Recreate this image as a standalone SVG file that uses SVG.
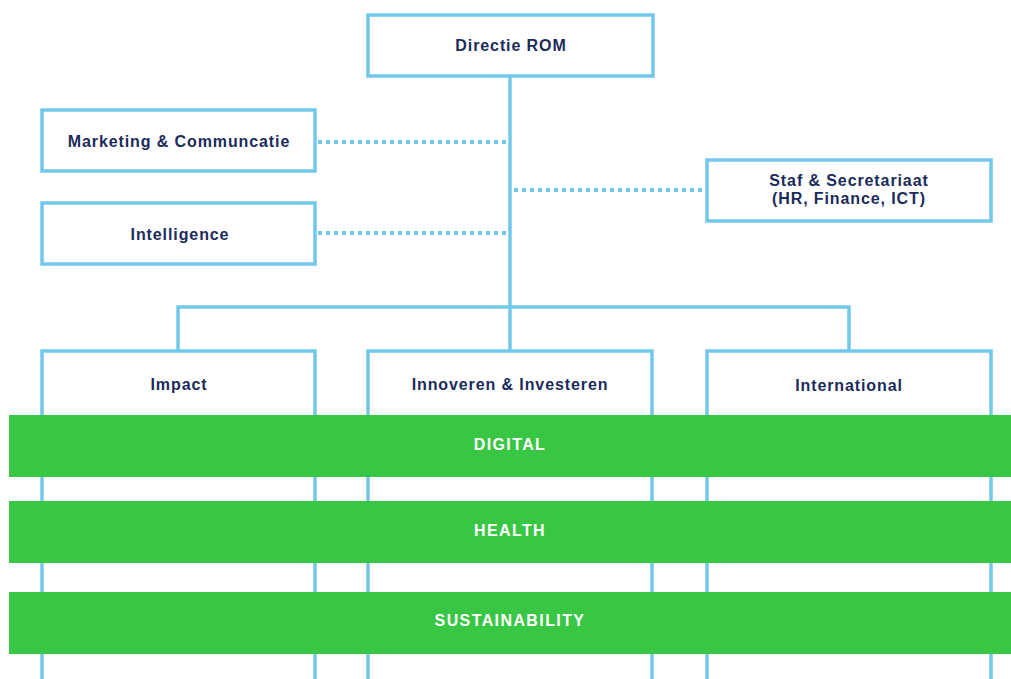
<svg xmlns="http://www.w3.org/2000/svg" width="1011" height="679" viewBox="0 0 1011 679">
<style>
.box{fill:#fff;stroke:#72C7EC;stroke-width:3.5}
.ln{fill:none;stroke:#72C7EC;stroke-width:3.5}
.dot{fill:none;stroke:#72C7EC;stroke-width:4;stroke-dasharray:4 4}
.t{font-family:"Liberation Sans",Arial,sans-serif;font-weight:bold;font-size:16px;fill:#1B2B5B;text-anchor:middle;letter-spacing:0.9px}
.band{fill:#3AC645}
.bt{font-family:"Liberation Sans",Arial,sans-serif;font-weight:bold;font-size:16px;fill:#fff;text-anchor:middle;letter-spacing:1.4px}
</style>
<rect width="1011" height="679" fill="#fff"/>
<g id="connectors">
<line class="ln" x1="510" y1="76" x2="510" y2="350"/>
<polyline class="ln" points="178,350 178,307 849,307 849,350"/>
<line class="dot" x1="318" y1="142" x2="506" y2="142"/>
<line class="dot" x1="318" y1="233" x2="506" y2="233"/>
<line class="dot" x1="514" y1="190" x2="705" y2="190"/>
</g>
<g id="directie"><rect class="box" x="368" y="15" width="285" height="61"/><text class="t" x="511" y="51">Directie ROM</text></g>
<g id="marketing"><rect class="box" x="42" y="110" width="273" height="61"/><text class="t" x="179" y="147">Marketing &amp; Communcatie</text></g>
<g id="intelligence"><rect class="box" x="42" y="203" width="273" height="61"/><text class="t" x="180" y="240">Intelligence</text></g>
<g id="staf"><rect class="box" x="707" y="160" width="284" height="61"/><text class="t" x="849" y="186">Staf &amp; Secretariaat</text><text class="t" x="849" y="204">(HR, Finance, ICT)</text></g>
<g id="impact"><path class="ln" d="M42,690 V351 H315 V690"/><text class="t" x="179" y="390">Impact</text></g>
<g id="innoveren"><path class="ln" d="M368,690 V351 H652 V690"/><text class="t" x="510" y="390">Innoveren &amp; Investeren</text></g>
<g id="international"><path class="ln" d="M707,690 V351 H991 V690"/><text class="t" x="849" y="391">International</text></g>
<g id="digital"><rect class="band" x="9" y="415" width="1002" height="62"/><text class="bt" x="510" y="450">DIGITAL</text></g>
<g id="health"><rect class="band" x="9" y="501" width="1002" height="62"/><text class="bt" x="510" y="536">HEALTH</text></g>
<g id="sustainability"><rect class="band" x="9" y="592" width="1002" height="62"/><text class="bt" x="510" y="626">SUSTAINABILITY</text></g>
</svg>
